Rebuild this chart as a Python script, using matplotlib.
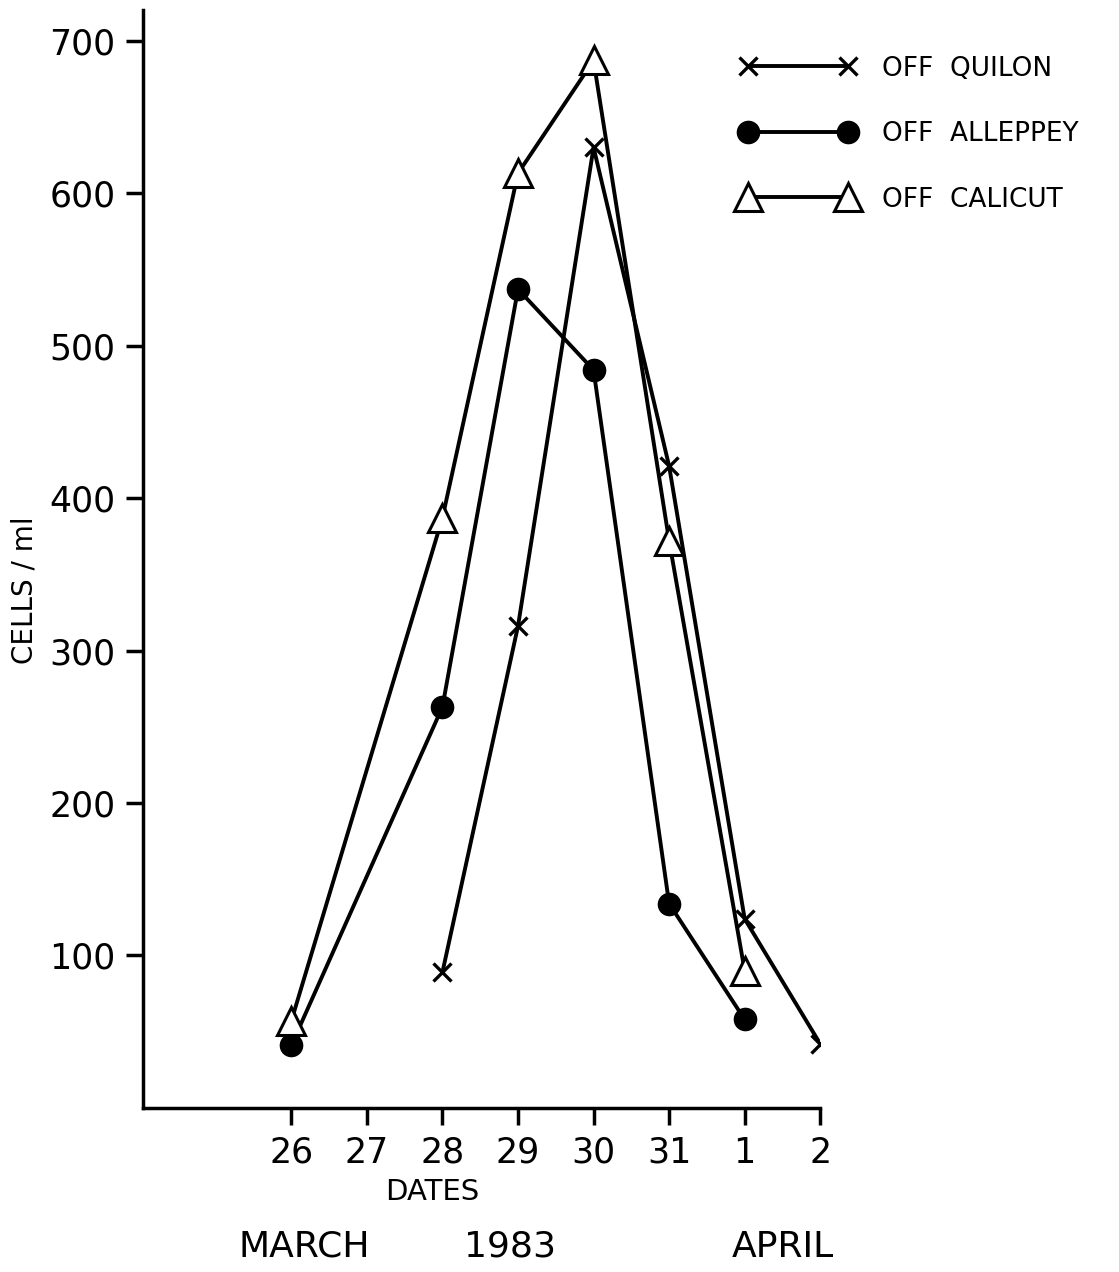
import matplotlib
matplotlib.use("Agg")
import matplotlib.pyplot as plt

# day positions: 26..31 March, 1..2 April -> 26..33
tick_pos = [26, 27, 28, 29, 30, 31, 32, 33]
tick_labels = ['26', '27', '28', '29', '30', '31', '1', '2']

quilon_x = [28, 29, 30, 31, 32, 33]
quilon_y = [89, 316, 630, 421, 124, 42]

alleppey_x = [26, 28, 29, 30, 31, 32]
alleppey_y = [41, 263, 537, 484, 134, 58]

calicut_x = [26, 28, 29, 30, 31, 32]
calicut_y = [57, 387, 613, 687, 372, 90]

plt.rcParams['font.family'] = ['DejaVu Sans']

fig = plt.figure(figsize=(11.19, 12.72), dpi=100)
ax = fig.add_axes([0.128, 0.129, 0.605, 0.863])

ax.plot(quilon_x, quilon_y, color='black', lw=2.8, marker='x',
        markersize=13, markeredgewidth=2.4, label='OFF  QUILON')
ax.plot(alleppey_x, alleppey_y, color='black', lw=2.8, marker='o',
        markersize=16, label='OFF  ALLEPPEY')
ax.plot(calicut_x, calicut_y, color='black', lw=2.8, marker='^',
        markersize=20, markerfacecolor='white', markeredgewidth=2.2,
        label='OFF  CALICUT')

ax.set_xlim(24.04, 33)
ax.set_ylim(0, 720)
ax.set_xticks(tick_pos)
ax.set_xticklabels(tick_labels)
ax.set_yticks([100, 200, 300, 400, 500, 600, 700])

ax.spines['top'].set_visible(False)
ax.spines['right'].set_visible(False)
for s in ['left', 'bottom']:
    ax.spines[s].set_linewidth(2.5)
ax.tick_params(axis='both', direction='out', length=12, width=2.5,
               labelsize=25, pad=8)

ax.set_ylabel('CELLS / ml', fontsize=20)
ax.yaxis.set_label_coords(-0.155, 0.472)
ax.set_xlabel('DATES', fontsize=21)
ax.xaxis.set_label_coords(0.427, -0.064)

fig.text(0.272, 0.012, 'MARCH', fontsize=26, ha='center')
fig.text(0.456, 0.012, '1983', fontsize=26, ha='center')
fig.text(0.700, 0.012, 'APRIL', fontsize=26, ha='center')

ax.legend(loc='upper left', bbox_to_anchor=(0.640, 0.975),
          bbox_transform=fig.transFigure, frameon=False, numpoints=2,
          handlelength=4.4, fontsize=19, labelspacing=1.5, handletextpad=1.0)

fig.savefig('out.png', dpi=100)
